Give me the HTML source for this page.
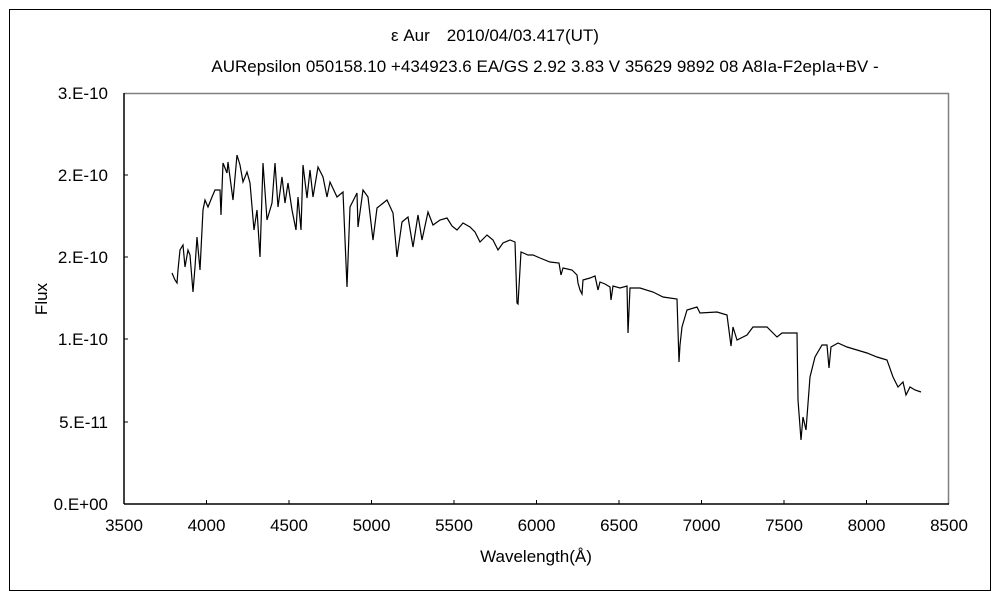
<!DOCTYPE html>
<html><head><meta charset="utf-8"><style>
html,body{margin:0;padding:0;background:#fff;}
svg{display:block;}
text{font-family:"Liberation Sans","Noto Sans CJK JP",sans-serif;font-size:17px;fill:#000;}
</style></head><body>
<svg width="1000" height="600" viewBox="0 0 1000 600" xmlns="http://www.w3.org/2000/svg">
<rect x="9.5" y="9.5" width="981" height="581" fill="#fff" stroke="#000" stroke-width="1"/>
<text x="495" y="41" text-anchor="middle">ε  Aur　2010/04/03.417(UT)</text>
<text x="545" y="72" text-anchor="middle">AURepsilon 050158.10 +434923.6 EA/GS 2.92 3.83 V 35629 9892 08 A8Ia-F2epIa+BV -</text>
<line x1="124" y1="93.5" x2="949" y2="93.5" stroke="#808080" stroke-width="1.5"/>
<line x1="948.5" y1="93" x2="948.5" y2="504" stroke="#808080" stroke-width="1.5"/>
<line x1="124" y1="93" x2="124" y2="504" stroke="#000" stroke-width="1.5"/>
<line x1="124" y1="504" x2="949" y2="504" stroke="#000" stroke-width="1.5"/>
<g stroke="#000" stroke-width="1">
<line x1="124" y1="175" x2="128" y2="175"/><line x1="124" y1="257" x2="128" y2="257"/>
<line x1="124" y1="339" x2="128" y2="339"/><line x1="124" y1="422" x2="128" y2="422"/>
<line x1="206.5" y1="504" x2="206.5" y2="500"/><line x1="289" y1="504" x2="289" y2="500"/>
<line x1="371.5" y1="504" x2="371.5" y2="500"/><line x1="454" y1="504" x2="454" y2="500"/>
<line x1="536.5" y1="504" x2="536.5" y2="500"/><line x1="619" y1="504" x2="619" y2="500"/>
<line x1="701.5" y1="504" x2="701.5" y2="500"/><line x1="784" y1="504" x2="784" y2="500"/>
<line x1="866.5" y1="504" x2="866.5" y2="500"/>
</g>
<g text-anchor="end">
<text x="108" y="99">3.E-10</text><text x="108" y="181">2.E-10</text>
<text x="108" y="263">2.E-10</text><text x="108" y="345">1.E-10</text>
<text x="108" y="428">5.E-11</text><text x="108" y="510">0.E+00</text>
</g>
<g text-anchor="middle">
<text x="124" y="531">3500</text><text x="206.5" y="531">4000</text><text x="289" y="531">4500</text>
<text x="371.5" y="531">5000</text><text x="454" y="531">5500</text><text x="536.5" y="531">6000</text>
<text x="619" y="531">6500</text><text x="701.5" y="531">7000</text><text x="784" y="531">7500</text>
<text x="866.5" y="531">8000</text><text x="949" y="531">8500</text>
<text x="536" y="562">Wavelength(Å)</text>
</g>
<text x="47" y="299" text-anchor="middle" transform="rotate(-90 47 299)">Flux</text>
<polyline fill="none" stroke="#000" stroke-width="1.2" points="172,273 175,280 177,283 178,270 180,250 183,245 185,267 188,250 190,255 193,292 195,267 197,237 200,270 203,210 205,200 208,207 212,197 215,190 220,190 221,215 223,163 227,173 228,162 233,200 237,155 240,165 243,182 247,172 250,183 254,230 257,210 260,257 263,163 267,220 272,203 275,163 278,207 282,177 285,203 288,183 292,210 296,230 298,197 301,230 303,165 307,198 310,170 313,197 318,167 323,177 327,197 330,182 337,197 343,192 347,287 350,207 357,193 358,227 363,190 368,197 373,240 377,208 387,200 393,213 397,257 402,222 408,217 413,247 418,215 422,240 428,212 433,225 440,220 447,218 452,226 457,230 463,223 470,227 475,232 480,242 487,235 493,240 498,250 503,243 510,240 515,242 517,303 518,304 521,252 528,255 533,255 540,258 550,262 559,263 561,275 563,268 572,270 577,275 578,283 580,290 582,294 583,280 590,278 595,276 598,290 600,282 605,284 610,287 611,300 613,286 620,288 627,286 628,333 630,288 640,288 653,292 663,297 677,299 679,362 680,345 682,327 687,310 697,307 700,313 717,312 727,315 731,346 733,327 737,340 747,335 753,327 767,327 777,337 782,333 797,333 798,400 801,440 803,417 806,430 810,377 815,357 822,345 827,345 829,368 831,347 838,343 847,347 857,350 867,353 877,357 887,360 893,377 898,387 903,382 906,395 910,387 915,390 921,392"/>
</svg>
</body></html>
